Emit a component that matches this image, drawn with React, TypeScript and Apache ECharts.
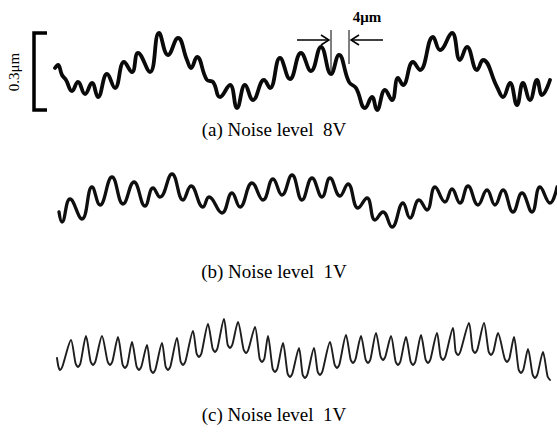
import React, { useEffect, useRef } from "react";
import * as echarts from "echarts";

// x in µm, height in nm
const traceA: [number, number][] = [
  [13.75, 208], [14.5, 220], [15.5, 180], [16.5, 160], [18, 116], [19.5, 152], [21.25, 104], [23, 148],
  [24.5, 92], [26.75, 184], [28.75, 128], [31, 232], [33, 192], [34.5, 268], [37.5, 192], [39.75, 348],
  [42, 260], [44.5, 328], [46.75, 240], [47.75, 208], [49.25, 252], [51.75, 160], [53.25, 152], [55, 92],
  [57.5, 140], [59.25, 48], [61.25, 140], [63.25, 80], [66, 160], [67.5, 128], [70, 248], [72.5, 164],
  [75.25, 268], [77.75, 196], [80.25, 292], [82.75, 184], [84.75, 260], [87.25, 152], [89, 128], [91.25, 48],
  [93, 92], [94.25, 40], [96.25, 120], [98, 80], [99.5, 168], [100.75, 140], [103.25, 232], [105, 200],
  [108.25, 332], [110, 280], [113, 348], [115, 240], [116.75, 292], [119.25, 200], [120.75, 240], [124.25, 132],
  [125.75, 92], [127.5, 148], [129.25, 60], [130.75, 148], [132.5, 80], [134.25, 160], [135.5, 100], [137.5, 160],
];

const traceB: [number, number][] = [
  [14.75, 192], [15.5, 152], [17.5, 244], [20.5, 164], [23, 292], [25, 220], [28, 332], [30.75, 224],
  [33.5, 312], [36.25, 216], [38.25, 288], [40, 252], [43, 344], [45.75, 240], [47.75, 296], [50.75, 212],
  [52.25, 252], [55.5, 188], [58, 268], [60, 212], [63, 308], [65.75, 240], [68.25, 324], [70.5, 260],
  [73, 340], [75.5, 240], [78, 328], [80.5, 252], [82.5, 328], [85, 256], [87, 304], [89.5, 208],
  [91.75, 248], [93.75, 160], [95.75, 192], [98, 132], [100.75, 228], [102.5, 168], [104.75, 240], [106.75, 200],
  [108.75, 292], [111.25, 232], [113, 284], [115, 228], [117, 296], [119.5, 220], [121.75, 280], [123.75, 220],
  [125.75, 280], [128.25, 192], [130.5, 268], [133, 192], [135, 292], [137.5, 228], [139.25, 292],
];

// sharp crests, rounded troughs (each trough read as a short rounded bottom)
const traceC: [number, number][] = [
  [14.25, 168], [14.6, 134], [15, 120], [15.6, 134], [17.75, 240],
  [18.9, 146], [19.5, 132], [20.1, 146], [21.5, 256],
  [22.65, 154], [23.25, 140], [23.85, 154], [25.5, 256],
  [26.9, 154], [27.5, 140], [28.1, 154], [29.5, 252],
  [30.65, 142], [31.25, 128], [31.85, 142], [33, 232],
  [34.15, 134], [34.75, 120], [35.35, 134], [36.75, 220],
  [37.65, 122], [38.25, 108], [38.85, 122], [40.5, 228],
  [41.4, 134], [42, 120], [42.6, 134], [44.25, 248],
  [45.15, 154], [45.75, 140], [46.35, 154], [48.25, 276],
  [49.15, 186], [49.75, 172], [50.35, 186], [52, 304],
  [53.15, 206], [53.75, 192], [54.35, 206], [56, 324],
  [56.9, 222], [57.5, 208], [58.1, 222], [59.5, 312],
  [60.9, 202], [61.5, 188], [62.1, 202], [63.75, 292],
  [64.9, 166], [65.5, 152], [66.1, 166], [67, 256],
  [68.15, 126], [68.75, 112], [69.35, 126], [70.75, 228],
  [71.9, 106], [72.5, 92], [73.1, 106], [74.75, 208],
  [75.65, 102], [76.25, 88], [76.85, 102], [78.5, 208],
  [79.4, 114], [80, 100], [80.6, 114], [82.5, 232],
  [83.65, 142], [84.25, 128], [84.85, 142], [86.5, 260],
  [87.65, 162], [88.25, 148], [88.85, 162], [90.25, 256],
  [91.4, 162], [92, 148], [92.6, 162], [94, 268],
  [95.15, 174], [95.75, 160], [96.35, 174], [97.75, 256],
  [98.9, 154], [99.5, 140], [100.1, 154], [101.5, 252],
  [102.65, 154], [103.25, 140], [103.85, 154], [105.25, 260],
  [106.4, 162], [107, 148], [107.6, 162], [109.25, 268],
  [110.15, 174], [110.75, 160], [111.35, 174], [113.25, 288],
  [113.9, 194], [114.5, 180], [115.1, 194], [117.25, 308],
  [118.15, 202], [118.75, 188], [119.35, 202], [121, 308],
  [122.15, 194], [122.75, 180], [123.35, 194], [124.5, 268],
  [126.15, 166], [126.75, 152], [127.35, 166], [128.5, 252],
  [129.65, 122], [130.25, 108], [130.85, 122], [132, 204],
  [133.15, 102], [133.75, 88], [134.35, 102], [135.75, 192],
  [136.9, 94], [137.5, 80],
];

const panelLabels = ["(a) Noise level  8V", "(b) Noise level  1V", "(c) Noise level  1V"];
const scaleLabel = "0.3μm";
const periodLabel = "4μm";

const SERIF = "'Liberation Serif', 'DejaVu Serif', serif";

export default function App() {
  const ref = useRef<HTMLDivElement>(null);
  useEffect(() => {
    if (!ref.current) return;
    const chart = echarts.init(ref.current, undefined, { renderer: "svg" });
    const tops = [20, 160, 300];
    const grids = tops.map((t) => ({ left: 0, top: t, width: 557, height: 100 }));
    const xAxes = tops.map((_, i) => ({ type: "value", gridIndex: i, min: 0, max: 139.25, show: false }));
    const yAxes = tops.map((_, i) => ({ type: "value", gridIndex: i, min: 0, max: 400, show: false }));
    const traces = [traceA, traceB, traceC];
    const widths = [3.8, 3.3, 1.9];
    const colors = ["#0a0a0a", "#0f0f0f", "#1e1e1e"];
    const smooths = [0.45, 0.45, 0.25];
    const series = traces.map((d, i) => ({
      type: "line",
      xAxisIndex: i,
      yAxisIndex: i,
      data: d,
      smooth: smooths[i],
      showSymbol: false,
      symbol: "none",
      lineStyle: { color: colors[i], width: widths[i], join: "round", cap: "round" },
      silent: true,
    }));
    const labelY = [129, 271, 414];
    const graphic: any[] = [
      {
        type: "polyline",
        shape: { points: [[47, 33], [34, 33], [34, 110], [47, 110]] },
        style: { stroke: "#000", lineWidth: 3.5, fill: "none" },
      },
      {
        type: "text",
        x: 14,
        y: 72,
        rotation: Math.PI / 2,
        style: { text: scaleLabel, font: `15px ${SERIF}`, fill: "#000", align: "center", verticalAlign: "middle" },
      },
      { type: "line", shape: { x1: 331, y1: 30, x2: 331, y2: 72 }, style: { stroke: "#000", lineWidth: 1 } },
      { type: "line", shape: { x1: 349, y1: 30, x2: 349, y2: 64 }, style: { stroke: "#000", lineWidth: 1 } },
      { type: "line", shape: { x1: 297, y1: 40, x2: 329, y2: 40 }, style: { stroke: "#000", lineWidth: 1.5 } },
      {
        type: "polyline",
        shape: { points: [[321, 35], [329, 40], [321, 45]] },
        style: { stroke: "#000", lineWidth: 1.5, fill: "none" },
      },
      { type: "line", shape: { x1: 383, y1: 40, x2: 351, y2: 40 }, style: { stroke: "#000", lineWidth: 1.5 } },
      {
        type: "polyline",
        shape: { points: [[359, 35], [351, 40], [359, 45]] },
        style: { stroke: "#000", lineWidth: 1.5, fill: "none" },
      },
      {
        type: "text",
        x: 367,
        y: 17,
        style: { text: periodLabel, font: `bold 15px ${SERIF}`, fill: "#000", align: "center", verticalAlign: "middle" },
      },
      ...panelLabels.map((t, i) => ({
        type: "text",
        x: 274,
        y: labelY[i],
        style: { text: t, font: `19px ${SERIF}`, fill: "#000", align: "center", verticalAlign: "middle" },
      })),
    ];
    chart.setOption({
      animation: false,
      backgroundColor: "#ffffff",
      grid: grids,
      xAxis: xAxes,
      yAxis: yAxes,
      series,
      graphic,
    } as any);
    return () => chart.dispose();
  }, []);
  return (
    <div
      ref={ref}
      style={{ position: "absolute", left: 0, top: 0, width: 557, height: 434, background: "#fff" }}
    />
  );
}
